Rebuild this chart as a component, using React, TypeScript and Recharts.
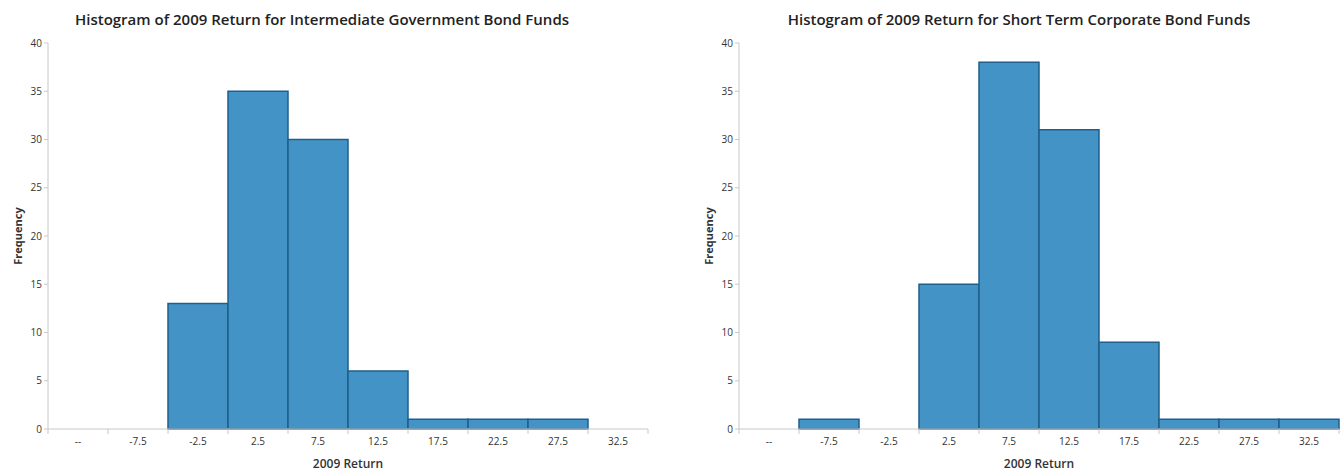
import { Bar, BarChart, XAxis, YAxis } from "recharts";

// Return bins shared by both histograms
const returnBins = ["--", "-7.5", "-2.5", "2.5", "7.5", "12.5", "17.5", "22.5", "27.5", "32.5"];

// Fund counts per bin
const intermediateGovCounts = [0, 0, 13, 35, 30, 6, 1, 1, 1, 0];
const shortTermCorpCounts = [0, 1, 0, 15, 38, 31, 9, 1, 1, 1];

const frequencyTicks = [0, 5, 10, 15, 20, 25, 30, 35, 40];

const FONT = "'Open Sans', 'Liberation Sans', sans-serif";
const BAR_FILL = "#4393c6";
const BAR_STROKE = "#1f5f8c";
const AXIS_GRAY = "#c8c8c8";

const CHART_H = 471;
const PLOT_W = 600;
const BAND = PLOT_W / returnBins.length;

type TickProps = { x?: number; y?: number; payload?: { value: string; index: number } };

function BinTick({ x = 0, y = 0, payload }: TickProps) {
  const last = payload?.index === returnBins.length - 1;
  return (
    <g>
      <line x1={x - BAND / 2} x2={x - BAND / 2} y1={y - 8} y2={y - 3} stroke={AXIS_GRAY} />
      {last && <line x1={x + BAND / 2} x2={x + BAND / 2} y1={y - 8} y2={y - 3} stroke={AXIS_GRAY} />}
      <text x={x} y={y + 8} textAnchor="middle" fontSize={10} fill="#333" fontFamily={FONT}>
        {payload?.value}
      </text>
    </g>
  );
}

function FrequencyLabel({ viewBox }: { viewBox?: { x: number; y: number; width: number; height: number } }) {
  if (!viewBox) return null;
  const cx = viewBox.x + 9;
  const cy = viewBox.y + viewBox.height / 2;
  return (
    <text
      x={cx}
      y={cy}
      transform={`rotate(-90 ${cx} ${cy})`}
      textAnchor="middle"
      dominantBaseline="central"
      fontSize={11}
      fontWeight={700}
      fill="#333"
      fontFamily={FONT}
    >
      Frequency
    </text>
  );
}

type HistogramProps = {
  title: string;
  counts: number[];
  left: number;
  axisX: number;
  titleCenter: number;
};

function Histogram({ title, counts, left, axisX, titleCenter }: HistogramProps) {
  const data = returnBins.map((bin, i) => ({ bin, count: counts[i] }));
  const marginLeft = axisX - left - 40;
  const width = marginLeft + 40 + PLOT_W + 4;

  return (
    <div style={{ position: "absolute", left, top: 0, width, height: CHART_H }}>
      <div
        style={{
          position: "absolute",
          left: titleCenter - left - 300,
          width: 600,
          top: 9,
          textAlign: "center",
          fontFamily: FONT,
          fontWeight: 600,
          fontSize: 15,
          color: "#222",
        }}
      >
        {title}
      </div>
      <BarChart
        width={width}
        height={CHART_H}
        data={data}
        margin={{ top: 43, right: 4, bottom: 0, left: marginLeft }}
        barCategoryGap={0}
      >
        <XAxis
          dataKey="bin"
          height={42}
          interval={0}
          stroke={AXIS_GRAY}
          tickLine={false}
          tick={<BinTick />}
          label={{ value: "2009 Return", position: "insideBottom", offset: 3, fontSize: 12, fontWeight: 600, fill: "#333", fontFamily: FONT }}
        />
        <YAxis
          width={40}
          domain={[0, 40]}
          ticks={frequencyTicks}
          interval={0}
          stroke={AXIS_GRAY}
          tickSize={4}
          tick={{ fontSize: 10, fill: "#333", fontFamily: FONT }}
          label={<FrequencyLabel />}
        />
        <Bar dataKey="count" fill={BAR_FILL} stroke={BAR_STROKE} strokeWidth={1.5} isAnimationActive={false} />
      </BarChart>
    </div>
  );
}

export default function App() {
  return (
    <div style={{ position: "absolute", left: 0, top: 0, width: 1343, height: CHART_H, background: "#fff", overflow: "hidden" }}>
      <Histogram
        title="Histogram of 2009 Return for Intermediate Government Bond Funds"
        counts={intermediateGovCounts}
        left={0}
        axisX={48}
        titleCenter={322}
      />
      <Histogram
        title="Histogram of 2009 Return for Short Term Corporate Bond Funds"
        counts={shortTermCorpCounts}
        left={692}
        axisX={739}
        titleCenter={1019}
      />
    </div>
  );
}
